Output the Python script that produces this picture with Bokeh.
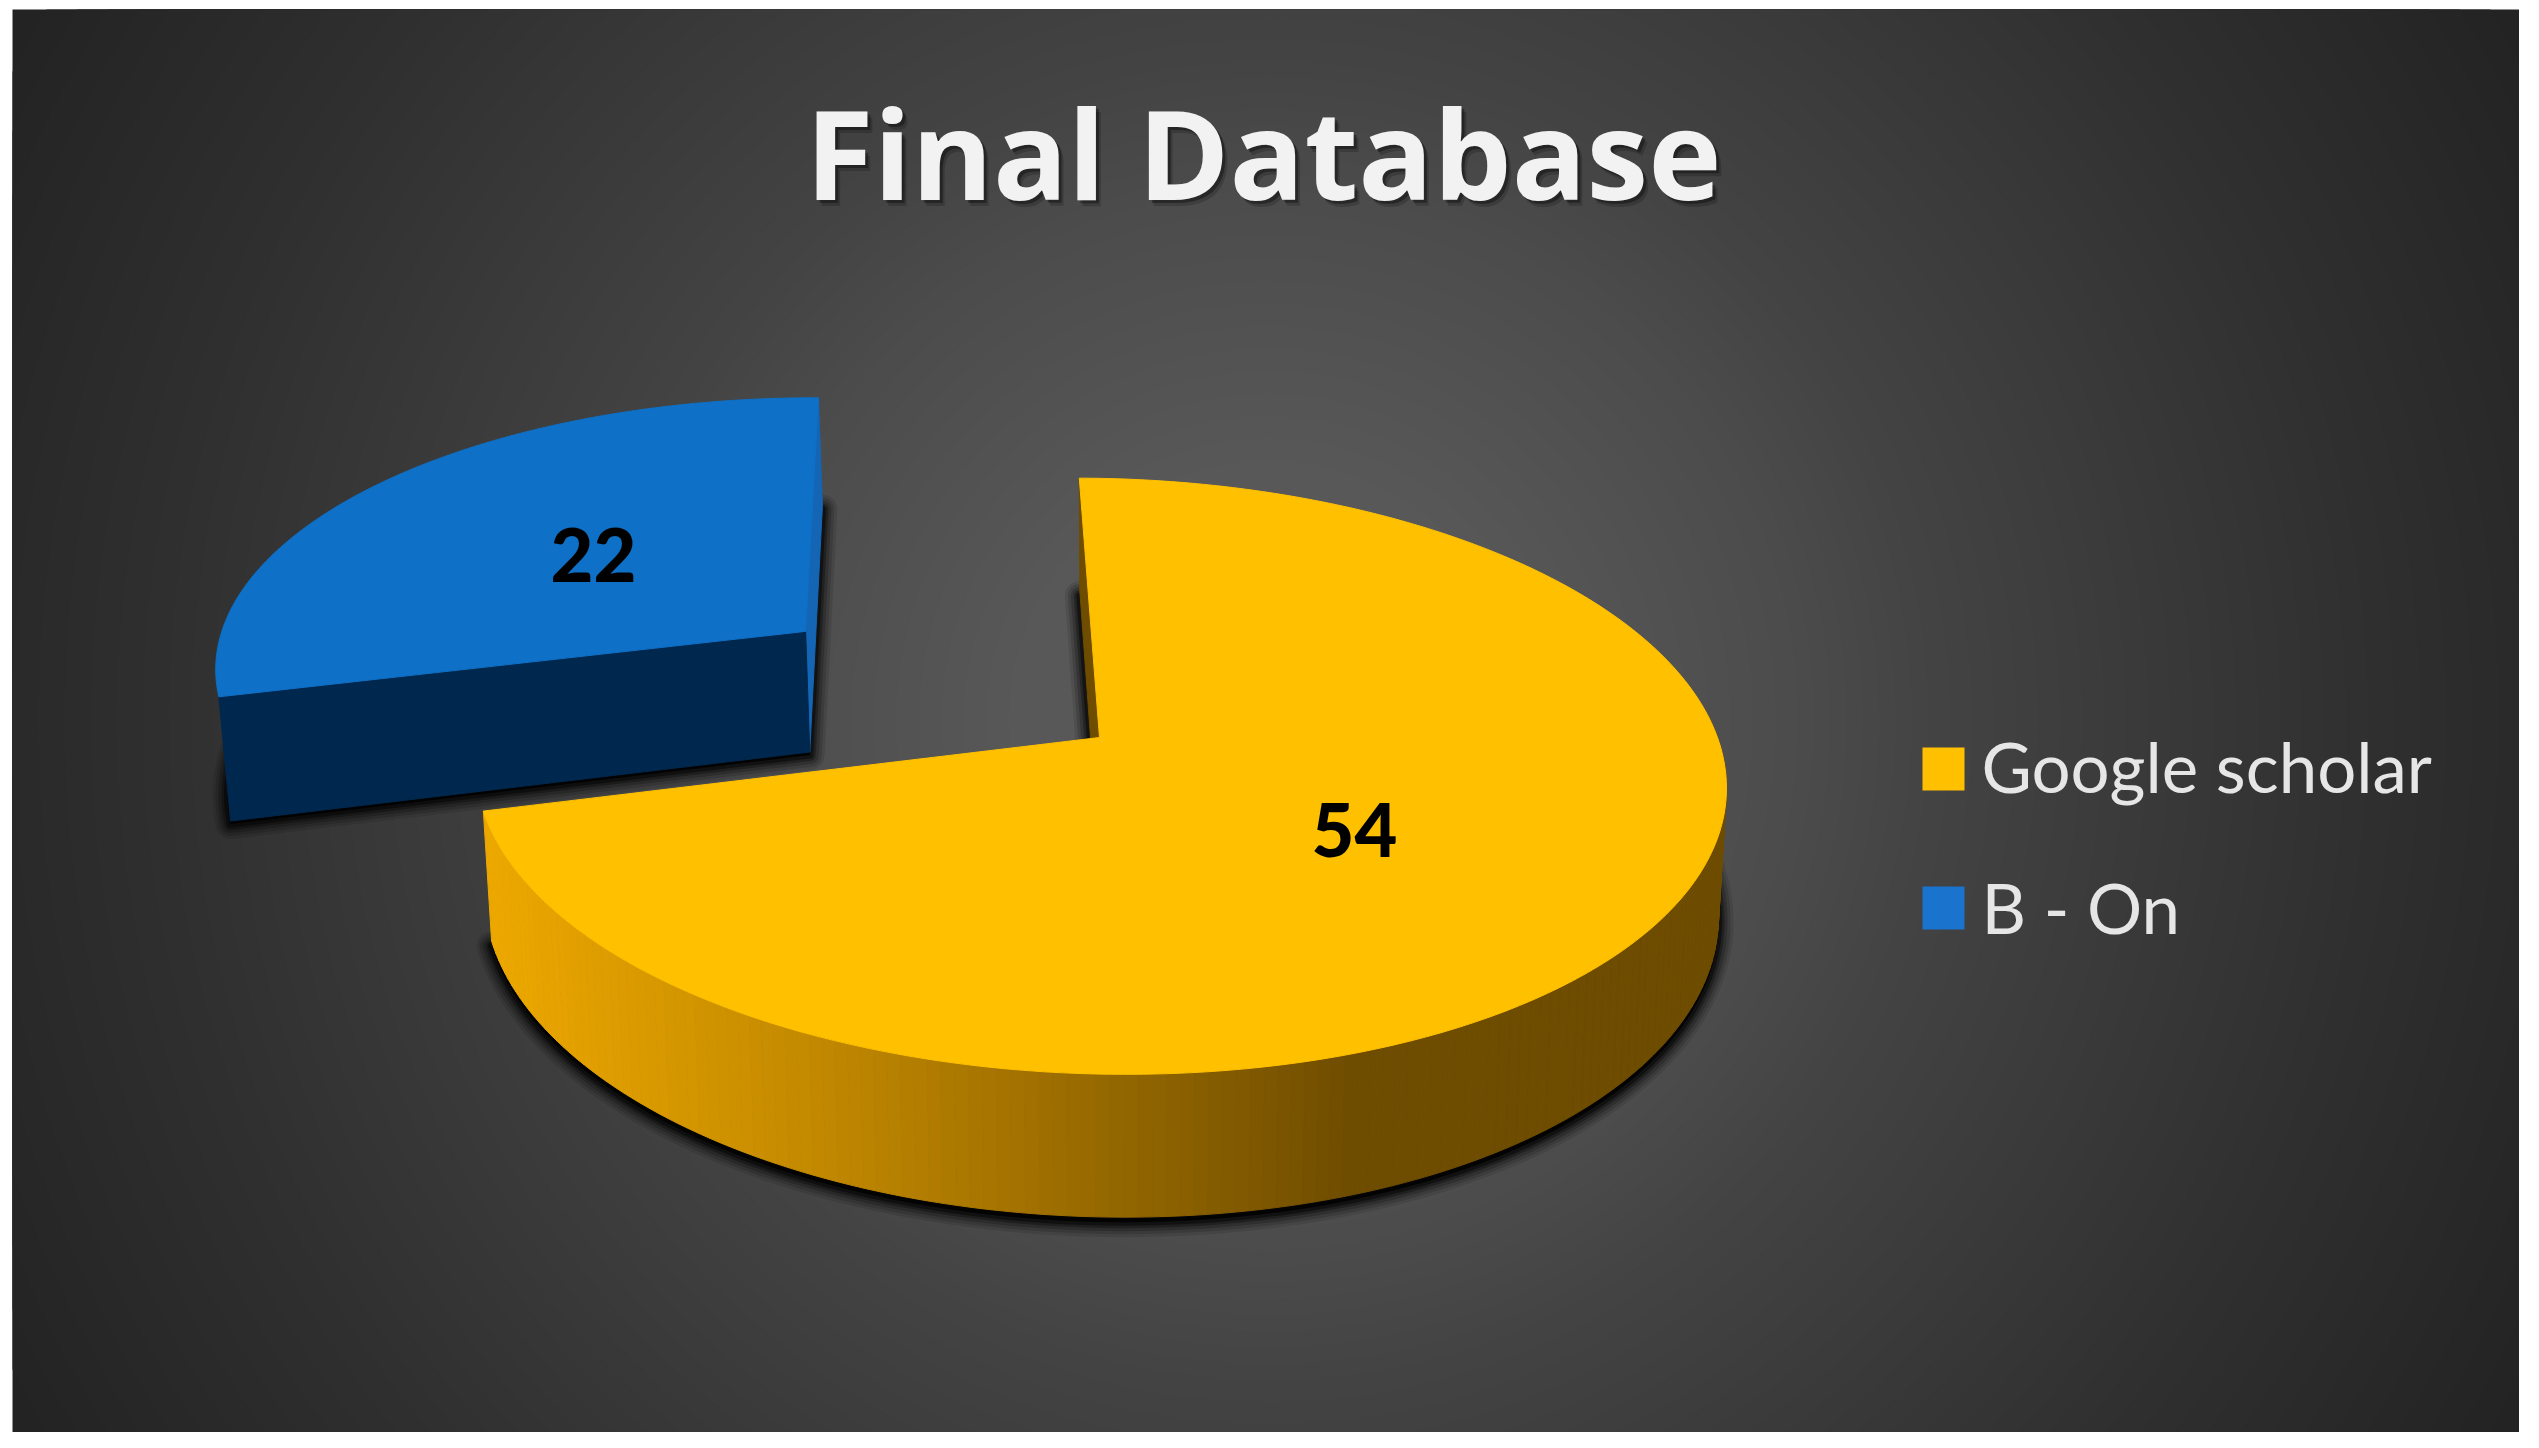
import numpy as np
from bokeh.plotting import figure
from bokeh.embed import file_html
from bokeh.resources import INLINE
from bokeh.core.properties import value

# ---- chart content -------------------------------------------------
title_text = "Final Database"
categories = ["Google scholar", "B - On"]
values = [54, 22]
value_labels = ["54", "22"]
colors_top = ["#FFC000", "#0E70C6"]
legend_colors = ["#FFC000", "#1A73CC"]

# ---- picture frame (coordinates are page pixels) ----------------------
X0, X1, Y0, Y1 = 12, 2519, 9, 1432
p = figure(width=X1, height=Y1, x_range=(X0, X1), y_range=(Y1, Y0),
           toolbar_location=None, output_backend="svg",
           min_border_left=X0, min_border_right=0, min_border_top=Y0, min_border_bottom=0,
           background_fill_color="#232323", border_fill_color="white", outline_line_color=None)
p.axis.visible = False
p.grid.visible = False

# ---- radial background -------------------------------------------------
grey_levels = np.arange(0x24, 0x5B)
radii = np.interp(grey_levels, [0x23, 0x30, 0x44, 0x4C, 0x58, 0x5A], [1440, 1100, 660, 530, 260, 0])
p.circle(x=[1268] * len(radii), y=[720] * len(radii), radius=list(radii),
         fill_color=["#%02x%02x%02x" % (g, g, g) for g in grey_levels], line_color=None)

# ---- 3D pie projection ------------------------------------------------
CX, CY = 1099, 737
A, B, C, D, K = 620.0, -12.0, 293.0, -6.0, 0.13
H = 126.0
VX = 1117.0
CONV = 0.013


def project(u, v, ou=0.0, bottom=False):
    u, v = np.asarray(u, float), np.asarray(v, float)
    w = 1 + K * v
    x = CX + (A * u + B * v) / w
    y = CY - (C * v + D * (u - ou)) / w
    if bottom:
        y = y + H / w ** 0.9
        x = x + (VX - x) * CONV
    return x, y


total = sum(values)
start = 91.0
blue_sweep = 360.0 * values[1] / total
yellow_sweep = 360.0 * values[0] / total
blue_a0, blue_a1 = start, start + blue_sweep
yel_a0, yel_a1 = blue_a1, blue_a1 + yellow_sweep
ox, oy, blue_r = -0.49, 0.38, 0.985


def wedge(a0, a1, ou=0.0, ov=0.0, r=1.0, bottom=False, n=160):
    t = np.radians(np.linspace(a0, a1, n))
    u = np.concatenate([[ou], ou + r * np.cos(t)])
    v = np.concatenate([[ov], ov + r * np.sin(t)])
    return project(u, v, ou, bottom)


def ray(a, ou=0.0, ov=0.0, r=1.0, bottom=False):
    t = np.radians(a)
    return project(ou + r * np.cos(t), ov + r * np.sin(t), ou, bottom)


# soft shadows
for lw, al in [(30, 0.10), (24, 0.14), (18, 0.20), (12, 0.30), (7, 0.45)]:
    sx, sy = wedge(blue_a0, blue_a1, ox, oy, blue_r, True)
    p.patch(sx, sy + 3, fill_color="black", fill_alpha=al, line_color="black", line_alpha=al,
            line_width=lw, line_join="round")
    sx, sy = wedge(yel_a0, yel_a1, 0, 0, 1.0, True)
    p.patch(sx, sy + 5, fill_color="black", fill_alpha=al, line_color="black", line_alpha=al,
            line_width=lw, line_join="round")

# blue slice: right cut face, front cut face, top
tx, ty = ray(blue_a0, ox, oy, blue_r)
bx, by = ray(blue_a0, ox, oy, blue_r, True)
c0x, c0y = project(ox, oy, ox)
c1x, c1y = project(ox, oy, ox, True)
p.patch([tx, bx, c1x, c0x], [ty, by, c1y, c0y], fill_color="#1565B5", line_color="#1565B5", line_width=1)
lx, ly = ray(blue_a1, ox, oy, blue_r)
mx, my = ray(blue_a1, ox, oy, blue_r, True)
p.patch([lx, mx, c1x, c0x], [ly, my, c1y, c0y], fill_color="#00284E", line_color="#00284E", line_width=1)
bxs, bys = wedge(blue_a0, blue_a1, ox, oy, blue_r)
p.patch(bxs, bys, fill_color=colors_top[1], line_color=colors_top[1], line_width=1)

# yellow slice: inner cut face, curved wall, top
tx, ty = ray(yel_a1)
bx, by = ray(yel_a1, bottom=True)
c0x, c0y = project(0, 0)
c1x, c1y = project(0, 0, 0, True)
p.patch([tx, bx, c1x, c0x], [ty, by, c1y, c0y], fill_color="#6E4C00", line_color="#6E4C00", line_width=1)

ts = np.linspace(yel_a0, 366, 150)
qx, qy, qc = [], [], []
for a, b in zip(ts[:-1], ts[1:]):
    ax_, ay_ = ray(a)
    bx_, by_ = ray(b)
    cx_, cy_ = ray(b, bottom=True)
    dx_, dy_ = ray(a, bottom=True)
    qx.append([ax_, bx_, cx_, dx_])
    qy.append([ay_, by_, cy_, dy_])
    m = (ax_ + bx_) / 2
    col = (np.interp(m, [490, 800, 1360], [0xED, 0xC4, 0x6E]),
           np.interp(m, [490, 800, 1360], [0xA8, 0x8A, 0x4C]), 0)
    qc.append("#%02x%02x%02x" % tuple(int(round(c)) for c in col))
p.patches(qx, qy, fill_color=qc, line_color=qc, line_width=1)

yxs, yys = wedge(yel_a0, yel_a1)
p.patch(yxs, yys, fill_color=colors_top[0], line_color=colors_top[0], line_width=1)

# ---- texts -------------------------------------------------------------
TITLE_Y = 151
for dx, dy, al in [(5, 6, 0.18), (3, 3, 0.35)]:
    p.text(x=[1263 + dx], y=[TITLE_Y + dy], text=[title_text], text_font=value("Open Sans"), text_font_style="bold",
           text_font_size="124px", text_align="center", text_baseline="alphabetic",
           text_color="black", text_alpha=al)
p.text(x=[1263], y=[TITLE_Y], text=[title_text], text_font=value("Open Sans"), text_font_style="bold",
       text_font_size="124px", text_align="center", text_baseline="alphabetic", text_color="#F2F2F2")

p.text(x=[1354, 593], y=[829, 554], text=value_labels, text_font=value("Lato Black"), text_font_style="bold",
       text_font_size="74px", text_align="center", text_baseline="alphabetic", text_color="black")

p.rect(x=[1943, 1943], y=[768.5, 907.5], width=42, height=43, fill_color=legend_colors, line_color=None)
p.text(x=[1981, 1981], y=[766, 907], text=categories, text_font=value("Lato"),
       text_font_size="69px", text_align="left", text_baseline="alphabetic", text_color="#E6E6E6")

open("out.html", "w").write(file_html(p, INLINE))
